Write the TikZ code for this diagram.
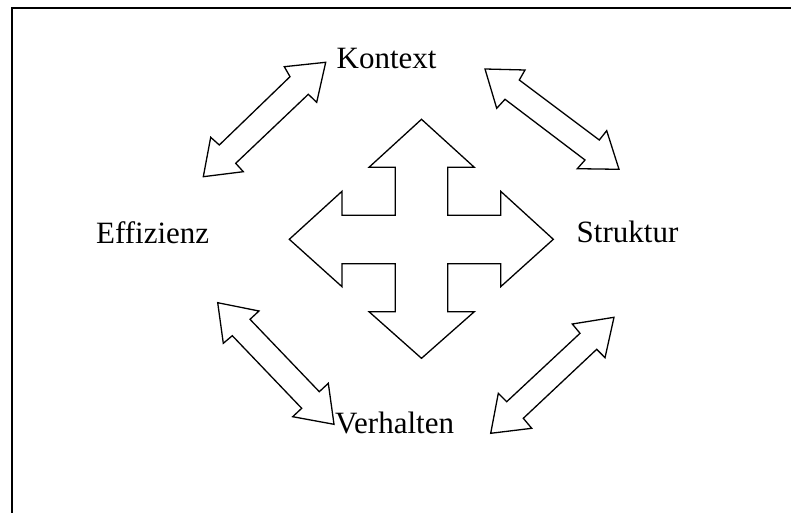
\documentclass[tikz,border=0pt]{standalone}
\usepackage{fontspec}
\setmainfont{Liberation Serif}
\begin{document}
\begin{tikzpicture}[x=1pt,y=-1pt,
  arrowshape/.style={draw=black,fill=white,line width=1.3pt,line join=miter},
  frameline/.style={draw=black,line width=1.8pt},
  label/.style={font=\fontsize{31}{36}\selectfont,inner sep=0pt,anchor=base west}]
\useasboundingbox (0,0) rectangle (791,513);
% frame (top and left edges only visible)
\draw[frameline] (12,520) -- (12,8) -- (800,8);
% central four-way arrow
\draw[arrowshape] (421.5,119.3) -- (474.3,167.3) -- (447.7,167.3) -- (447.7,215.3)
  -- (500.7,215.3) -- (500.7,191.3) -- (553.3,239.3) -- (500.7,286.7) -- (500.7,263.7)
  -- (447.7,263.7) -- (447.7,311.7) -- (474.3,311.7) -- (421.5,358.3) -- (369,311.7)
  -- (395.3,311.7) -- (395.3,263.7) -- (342,263.7) -- (342,286.7) -- (289.3,239.3)
  -- (342,191.3) -- (342,215.3) -- (395.3,215.3) -- (395.3,167.3) -- (369,167.3) -- cycle;
% double arrows
\draw[arrowshape] (325.7,62.3) -- (284.3,66.7) -- (290,76.7) -- (219.3,145) -- (210.7,137.3)
  -- (203.3,176.7) -- (243.3,171.7) -- (235.7,163.3) -- (308.3,94.3) -- (316.7,102.3) -- cycle;
\draw[arrowshape] (485,69) -- (525,70) -- (519.3,80) -- (599.3,140) -- (606.7,130.7)
  -- (619,169.3) -- (577.3,168.7) -- (585,160) -- (505,99.3) -- (496.7,108.3) -- cycle;
\draw[arrowshape] (217.7,302.7) -- (259,311) -- (250,319.3) -- (319.3,391.7) -- (328.3,383.3)
  -- (334,424.3) -- (292.7,416.7) -- (301.7,408.3) -- (232.3,335.7) -- (223.3,343.3) -- cycle;
\draw[arrowshape] (614,317.3) -- (572.3,324) -- (580,333.3) -- (506.7,401.7) -- (498.3,393.3)
  -- (490.7,433.3) -- (531.7,428.3) -- (523.3,418.3) -- (596.7,349.3) -- (605,357.7) -- cycle;
% labels
\node[label] (kontext) at (336.5,68.3) {Kontext};
\node[label] (effizienz) at (96,243.3) {Effizienz};
\node[label] (struktur) at (576.5,242.3) {Struktur};
\node[label] (verhalten) at (335,433) {Verhalten};
\end{tikzpicture}
\end{document}
